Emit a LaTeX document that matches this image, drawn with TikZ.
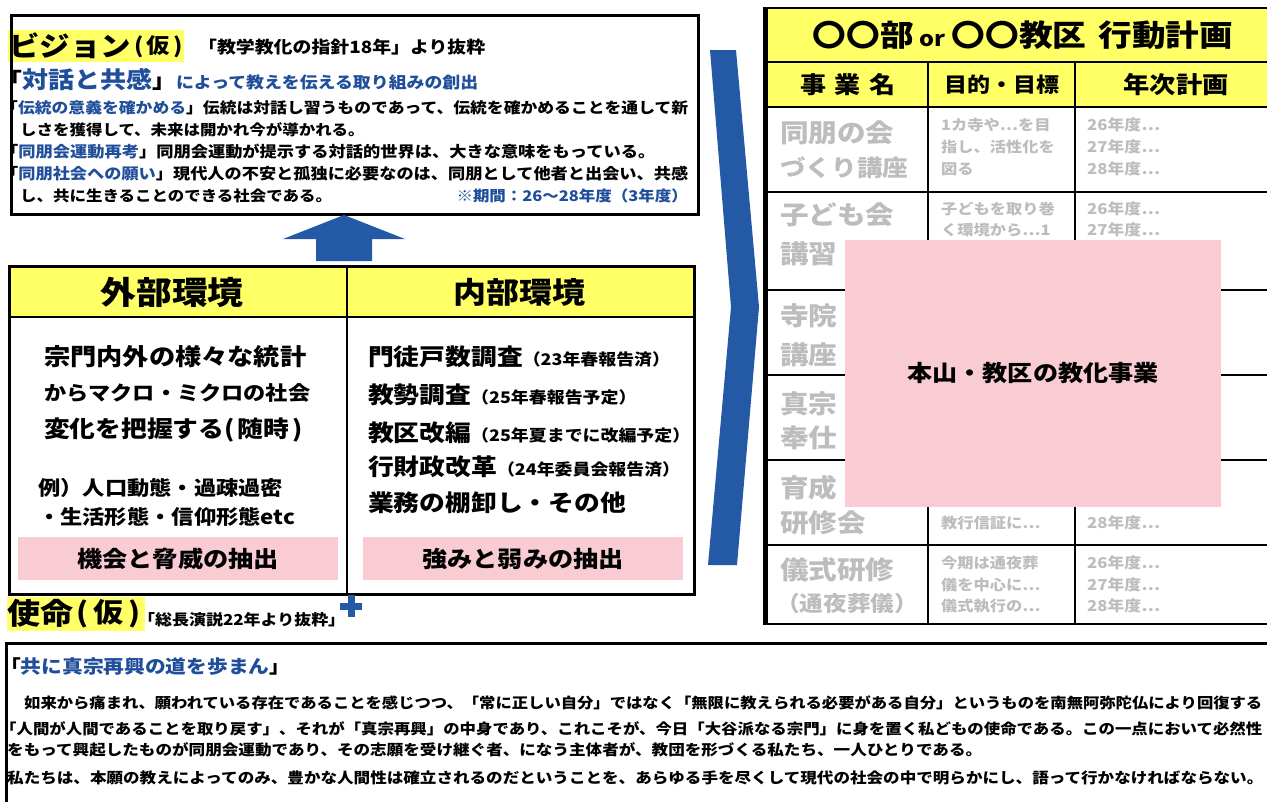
\documentclass[tikz,border=0pt]{standalone}
\usepackage{fontspec}
\usepackage{graphicx}
\setmainfont{Noto Sans CJK JP}[FakeStretch=1.12]
\definecolor{hl}{HTML}{FFFF66}
\definecolor{pk}{HTML}{F9CBD3}
\definecolor{bt}{HTML}{1F4E9A}
\definecolor{ab}{HTML}{2459A5}
\definecolor{gt}{HTML}{BDBDBD}
\newcommand\fw[2]{\resizebox{#1pt}{!}{#2}}
\newcommand\fz[1]{\fontsize{#1}{#1}\selectfont}
\newcommand\bl[1]{\textcolor{bt}{#1}}
\begin{document}
\begin{tikzpicture}[x=1pt,y=-1pt,
  txt/.style={inner sep=0pt,font=\bfseries},
  gtxt/.style={txt,text=gt,anchor=west},
  frame/.style={draw=black,line width=2.8pt},
  tline/.style={draw=black,line width=2.2pt}]
\useasboundingbox (0,0) rectangle (1267,801);
\fill[white] (0,0) rectangle (1267,801);

% ---------------- vision box
\fill[hl] (8,30) rectangle (184,62);
\node[frame,anchor=north west,minimum width=687pt,minimum height=199pt,inner sep=0pt] (vision) at (10,14) {};
\node[txt,anchor=west] (vt) at (9,46) {\fw{122}{\fz{28}ビジョン}};
\node[txt,anchor=west] (vk) at (134,47) {\fz{21}(\hspace{3pt}仮\hspace{3pt})};
\node[txt,anchor=west] (vs) at (198,47) {\fw{287}{\fz{16}「教学教化の指針18年」より抜粋}};
\node[txt,anchor=west] (v0) at (-2,80) {\fw{480}{{\fz{22}「}\bl{\fz{24}対話と共感}{\fz{22}」}\bl{\fz{16.5}によって教えを伝える取り組みの創出}}};
\node[txt,anchor=west] (v1) at (1,108) {\fw{687}{\fz{14.7}「\bl{伝統の意義を確かめる}」伝統は対話し習うものであって、伝統を確かめることを通して新}};
\node[txt,anchor=west] (v2) at (20,130) {\fz{14.7}しさを獲得して、未来は開かれ今が導かれる。};
\node[txt,anchor=west] (v3) at (1,152) {\fw{654}{\fz{14.7}「\bl{同朋会運動再考}」同朋会運動が提示する対話的世界は、大きな意味をもっている。}};
\node[txt,anchor=west] (v4) at (1,174) {\fw{687}{\fz{14.7}「\bl{同朋社会への願い}」現代人の不安と孤独に必要なのは、同朋として他者と出会い、共感}};
\node[txt,anchor=west] (v5) at (20,196) {\fz{14.7}し、共に生きることのできる社会である。};
\node[txt,anchor=east,text=bt] (v6) at (688,196) {\fz{14.7}※期間：26～28年度（3年度）};

% ---------------- up arrow
\fill[ab] (316,261) -- (316,239) -- (283,239) -- (344,215) -- (405,239) -- (372,239) -- (372,261) -- cycle;

% ---------------- environment box
\fill[hl] (8,265) rectangle (693,317);
\node[txt,fill=pk,minimum width=320pt,minimum height=43pt] (opp) at (178,558.5) {\fz{22.5}機会と脅威の抽出};
\node[txt,fill=pk,minimum width=320pt,minimum height=43pt] (str) at (523,558.5) {\fz{22.5}強みと弱みの抽出};
\draw[frame] (8,317) -- (693,317);
\draw[frame] (347,265) -- (347,593);
\node[frame,anchor=north west,minimum width=685pt,minimum height=328pt,inner sep=0pt] (env) at (8,265) {};
\node[txt] (exth) at (172,292) {\fw{143}{\fz{30}外部環境}};
\node[txt] (inth) at (519,292) {\fw{132}{\fz{30}内部環境}};
\node[txt,anchor=west] (e1) at (44,357) {\fw{262}{\fz{23}宗門内外の様々な統計}};
\node[txt,anchor=west] (e2) at (44,393) {\fw{266}{\fz{23}からマクロ・ミクロの社会}};
\node[txt,anchor=west] (e3) at (44,430) {\fz{23}変化を把握する(\hspace{3pt}随時\hspace{3pt})};
\node[txt,anchor=west] (e4) at (38,488) {\fw{245}{\fz{20}例）人口動態・過疎過密}};
\node[txt,anchor=west] (e5) at (38,517) {\fw{257}{\fz{20}・生活形態・信仰形態etc}};
\node[txt,anchor=west] (i1) at (368,357) {\fz{23}門徒戸数調査\fz{16}（23年春報告済）};
\node[txt,anchor=west] (i2) at (368,395) {\fz{23}教勢調査\fz{16}（25年春報告予定）};
\node[txt,anchor=west] (i3) at (368,433) {\fz{23}教区改編\fz{16}（25年夏までに改編予定）};
\node[txt,anchor=west] (i4) at (368,467) {\fz{23}行財政改革\fz{16}（24年委員会報告済）};
\node[txt,anchor=west] (i5) at (368,503) {\fz{23}業務の棚卸し・その他};

% ---------------- mission heading
\fill[hl] (7,597) rectangle (145,631);
\node[txt,anchor=west] (mt) at (7,613) {\fz{29.5}使命};
\node[txt,anchor=west] (mk) at (76,614) {\fz{27}(\hspace{5pt}仮\hspace{5pt})};
\node[txt,anchor=west] (ms) at (138,620) {\fw{207}{\fz{14.5}「総長演説22年より抜粋」}};
\fill[ab] (347.5,595) rectangle (354.5,617);
\fill[ab] (340,602.5) rectangle (362,609.5);

% ---------------- mission box
\node[frame,anchor=north west,minimum width=1290pt,minimum height=220pt,inner sep=0pt] (mission) at (5,642) {};
\node[txt,anchor=west] (m0) at (0,667) {\fz{18.5}「\bl{共に真宗再興の道を歩まん}」};
\node[txt,anchor=west] (m1) at (24,703) {\fw{1238}{\fz{14.8}如来から痛まれ、願われている存在であることを感じつつ、「常に正しい自分」ではなく「無限に教えられる必要がある自分」というものを南無阿弥陀仏により回復する}};
\node[txt,anchor=west] (m2) at (0,729) {\fw{1262}{\fz{14.8}「人間が人間であることを取り戻す」、それが「真宗再興」の中身であり、これこそが、今日「大谷派なる宗門」に身を置く私どもの使命である。この一点において必然性}};
\node[txt,anchor=west] (m3) at (7,750) {\fz{14.8}をもって興起したものが同朋会運動であり、その志願を受け継ぐ者、になう主体者が、教団を形づくる私たち、一人ひとりである。};
\node[txt,anchor=west] (m4) at (7,778) {\fw{1256}{\fz{14.8}私たちは、本願の教えによってのみ、豊かな人間性は確立されるのだということを、あらゆる手を尽くして現代の社会の中で明らかにし、語って行かなければならない。}};

% ---------------- chevron
\fill[ab] (710,50) -- (736,50) -- (759,307) -- (737,565) -- (708,565) -- (731,307) -- cycle;

% ---------------- action plan table
\fill[hl] (765,7) rectangle (1280,107);
\foreach \yy in {62,107,192,290,375,460,545} \draw[tline] (765,\yy) -- (1280,\yy);
\draw[tline] (928,62) -- (928,623);
\draw[tline] (1075,62) -- (1075,623);
\node[draw=black,line width=2.4pt,anchor=north west,minimum width=520pt,minimum height=616pt,inner sep=0pt] (plan) at (765,7) {};
\draw[line width=5pt] (plan.north west) -- (plan.south west);
\node[txt] (pt) at (1023,35) {\fw{420}{\fz{30}〇〇部\hspace{6pt}{\fz{21}or}\hspace{6pt}〇〇教区\hspace{12pt}行動計画}};
\node[txt] (h1) at (848,85) {\fw{95}{\fz{22}事\hspace{8pt}業\hspace{8pt}名}};
\node[txt] (h2) at (1002,85) {\fw{115}{\fz{22}目的・目標}};
\node[txt] (h3) at (1176,85) {\fw{105}{\fz{22}年次計画}};
% row 1
\node[gtxt] (r1a) at (780,133) {\fz{25.5}同朋の会};
\node[gtxt] (r1b) at (780,168) {\fw{128}{\fz{25.5}づくり講座}};
\node[gtxt] (r1c) at (941,125) {\fz{14.5}1カ寺や⋯を目};
\node[gtxt] (r1d) at (941,147) {\fz{14.5}指し、活性化を};
\node[gtxt] (r1e) at (941,169) {\fz{14.5}図る};
\node[gtxt] (r1f) at (1087,125) {\fz{15}26年度⋯};
\node[gtxt] (r1g) at (1087,147) {\fz{15}27年度⋯};
\node[gtxt] (r1h) at (1087,169) {\fz{15}28年度⋯};
% row 2
\node[gtxt] (r2a) at (780,215) {\fz{25.5}子ども会};
\node[gtxt] (r2b) at (780,254) {\fz{25.5}講習};
\node[gtxt] (r2c) at (941,209) {\fz{14.5}子どもを取り巻};
\node[gtxt] (r2d) at (941,230) {\fz{14.5}く環境から⋯1};
\node[gtxt] (r2f) at (1087,209) {\fz{15}26年度⋯};
\node[gtxt] (r2g) at (1087,230) {\fz{15}27年度⋯};
% row 3-5
\node[gtxt] (r3a) at (780,316) {\fz{25.5}寺院};
\node[gtxt] (r3b) at (780,355) {\fz{25.5}講座};
\node[gtxt] (r4a) at (780,404) {\fz{25.5}真宗};
\node[gtxt] (r4b) at (780,438) {\fz{25.5}奉仕};
\node[gtxt] (r5a) at (780,488) {\fz{25.5}育成};
\node[gtxt] (r5b) at (780,523) {\fz{25.5}研修会};
\node[gtxt] (r5c) at (941,523) {\fz{14.5}教行信証に⋯};
\node[gtxt] (r5f) at (1087,523) {\fz{15}28年度⋯};
% row 6
\node[gtxt] (r6a) at (780,570) {\fz{25.5}儀式研修};
\node[gtxt] (r6b) at (776,603) {\fw{142}{\fz{25.5}（通夜葬儀）}};
\node[gtxt] (r6c) at (941,563) {\fz{14.5}今期は通夜葬};
\node[gtxt] (r6d) at (941,585) {\fz{14.5}儀を中心に⋯};
\node[gtxt] (r6e) at (941,606) {\fz{14.5}儀式執行の⋯};
\node[gtxt] (r6f) at (1087,563) {\fz{15}26年度⋯};
\node[gtxt] (r6g) at (1087,585) {\fz{15}27年度⋯};
\node[gtxt] (r6h) at (1087,606) {\fz{15}28年度⋯};
% overlay
\node[txt,fill=pk,minimum width=376pt,minimum height=267pt] (hq) at (1033,373.5) {\fw{251}{\fz{22}本山・教区の教化事業}};
\end{tikzpicture}
\end{document}
